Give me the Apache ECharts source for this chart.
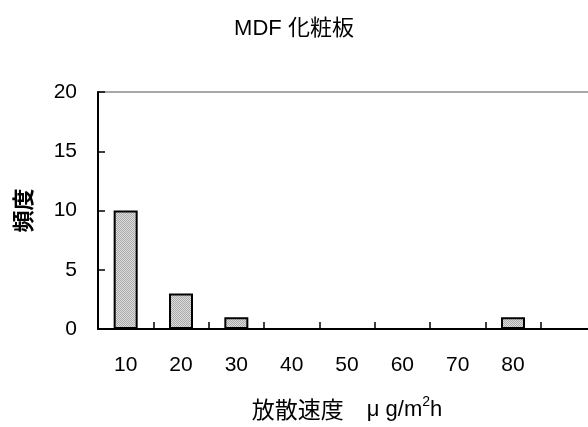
<!DOCTYPE html>
<html>
<head>
<meta charset="utf-8">
<script src="https://cdn.jsdelivr.net/npm/echarts@6/dist/echarts.min.js"></script>
<style>
html,body{margin:0;padding:0;background:#fff;}
#c{width:588px;height:427px;}
</style>
</head>
<body>
<div id="c"></div>
<script>
const titleText = 'MDF 化粧板';
const categories = ['10','20','30','40','50','60','70','80',''];
const frequency = [10, 3, 1, 0, 0, 0, 0, 1, 0];
const yTicks = {min: 0, max: 20, interval: 5};
const yName = '頻度';
const xNameJa = '放散速度　';
const xNameUnit = 'μ g/m';
const xNameSup = '2';
const xNameTail = 'h';

// small checker pattern for the bar fill
const pat = document.createElement('canvas');
pat.width = 2; pat.height = 2;
const pctx = pat.getContext('2d');
pctx.fillStyle = '#dcdcdc'; pctx.fillRect(0, 0, 2, 2);
pctx.fillStyle = '#ababab'; pctx.fillRect(0, 0, 1, 1); pctx.fillRect(1, 1, 1, 1);

const latin = 'Arial, "Liberation Sans", "Noto Sans CJK JP", sans-serif';
const chart = echarts.init(document.getElementById('c'), null, {renderer: 'canvas'});
chart.setOption({
  animation: false,
  backgroundColor: '#fff',
  title: {
    text: titleText, left: 'center', top: 13,
    textStyle: {fontFamily: latin, fontSize: 22, fontWeight: 'normal', color: '#000'}
  },
  grid: {
    left: 98, top: 92, bottom: 98, right: -8,
    outerBoundsMode: 'none',
    containLabel: false,
    show: true, borderColor: '#8c8c8c', borderWidth: 1.5, backgroundColor: 'transparent'
  },
  xAxis: {
    type: 'category',
    data: categories,
    boundaryGap: true,
    name: '{j|' + xNameJa + '}{m|' + xNameUnit + '}{s|' + xNameSup + '}{m|' + xNameTail + '}',
    nameLocation: 'middle',
    nameGap: 66,
    nameTextStyle: {
      rich: {
        j: {fontFamily: '"Noto Sans CJK JP", sans-serif', fontSize: 23, color: '#000', verticalAlign: 'bottom', lineHeight: 26},
        m: {fontFamily: latin, fontSize: 22, color: '#000', verticalAlign: 'bottom', lineHeight: 26},
        s: {fontFamily: latin, fontSize: 14, color: '#000', verticalAlign: 'top', lineHeight: 26, padding: [0, 0, 11, 0]}
      }
    },
    axisLine: {show: true, lineStyle: {color: '#000', width: 2}},
    axisTick: {show: true, inside: true, length: 7, alignWithLabel: false, lineStyle: {color: '#000', width: 1.5}},
    axisLabel: {fontFamily: latin, fontSize: 21, color: '#000', margin: 26, interval: 0},
    splitLine: {show: false}
  },
  yAxis: {
    type: 'value',
    min: yTicks.min, max: yTicks.max, interval: yTicks.interval,
    name: yName,
    nameLocation: 'middle',
    nameGap: 64,
    nameRotate: 90,
    nameTextStyle: {fontFamily: '"Noto Sans CJK JP", sans-serif', fontSize: 22, fontWeight: 'bold', color: '#000'},
    axisLine: {show: true, lineStyle: {color: '#000', width: 2}},
    axisTick: {show: true, inside: true, length: 7, lineStyle: {color: '#000', width: 1.5}},
    axisLabel: {fontFamily: latin, fontSize: 21, color: '#000', margin: 21},
    splitLine: {show: false}
  },
  series: [{
    type: 'bar',
    data: frequency,
    barWidth: 24,
    itemStyle: {color: {image: pat, repeat: 'repeat'}, borderColor: '#000', borderWidth: 2}
  }]
});
</script>
</body>
</html>
